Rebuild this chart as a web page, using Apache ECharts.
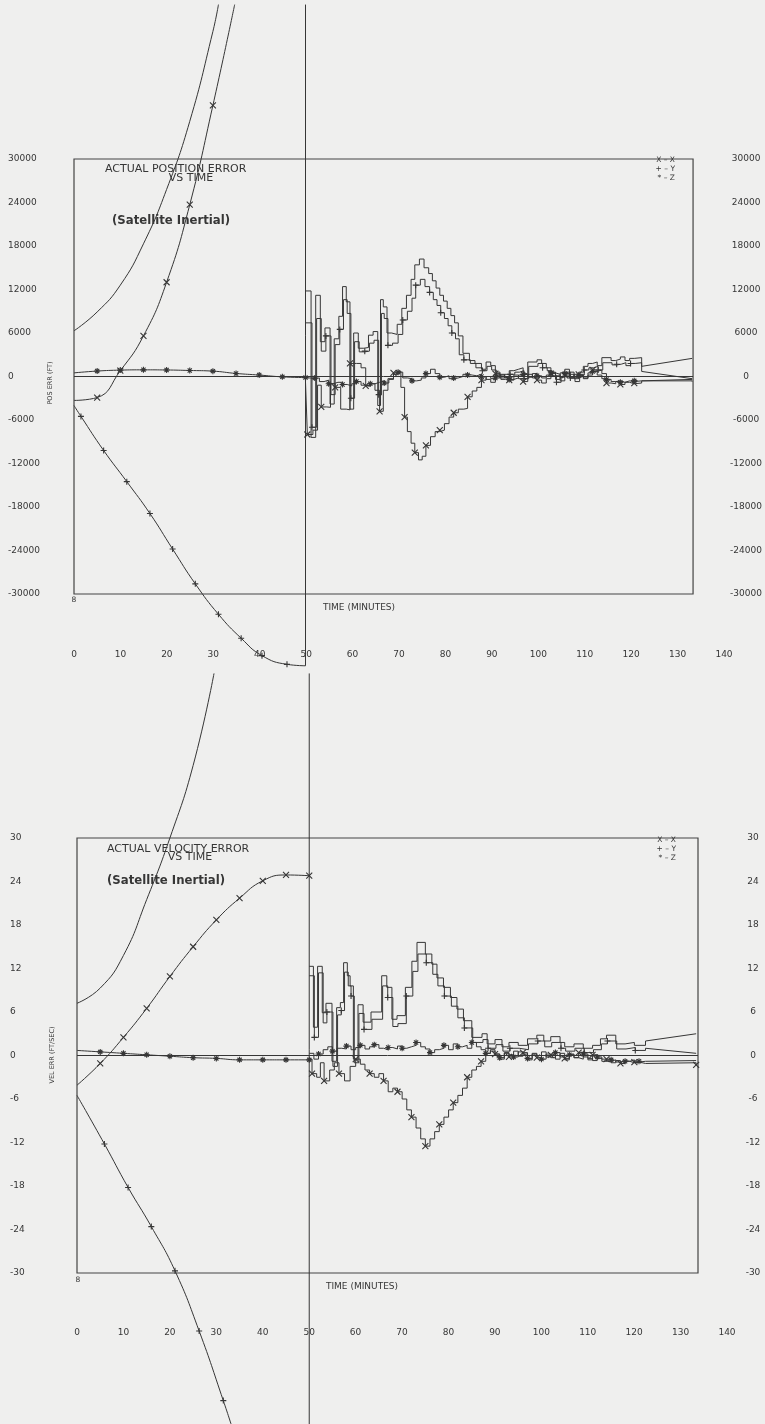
<!DOCTYPE html>
<html>
<head>
<meta charset="utf-8">
<script src="https://cdn.jsdelivr.net/npm/echarts@6/dist/echarts.min.js"></script>
<style>
  html, body { margin: 0; padding: 0; background: #efefee; }
  #chart { width: 765px; height: 1424px; }
</style>
</head>
<body>
<div id="chart"></div>
<script>
// ---------- axis ticks ----------
const timeTicks = [0, 10, 20, 30, 40, 50, 60, 70, 80, 90, 100, 110, 120, 130, 140];
const posTicks = [30000, 24000, 18000, 12000, 6000, 0, -6000, -12000, -18000, -24000, -30000];
const velTicks = [30, 24, 18, 12, 6, 0, -6, -12, -18, -24, -30];
const timeEnd = 133.7;   // last minute of the run

// ---------- position error (ft), first 50 minutes ----------
const posLead = [[0, 6300], [5, 8900], [10, 12600], [15, 18300], [20, 25800], [25, 35200], [30, 47600], [31.2, 51300]];
const posXEarly = [[0, -3300], [5, -2900], [10, 800], [15, 5600], [20, 13000], [25, 23700], [30, 37400], [34.7, 51300]];
const posYEarly = [[0, -4000], [1.5, -5500], [6.4, -10200], [11.4, -14500], [16.4, -18900], [21.3, -23800], [26.2, -28600], [31.2, -32800], [36.1, -36100], [40.6, -38500], [46, -39700], [50, -39900]];
const posZEarly = [[0, 500], [5, 750], [10, 880], [15, 920], [20, 900], [25, 830], [30, 740], [35, 420], [40, 200], [45, -50], [50, -150]];
const posUpdate = [[50, 51300], [50, -39900]];

// ---------- position error (ft), after the 50 minute update ----------
const posLeadLate = [[50,11800],[51.2,-8400],[52.2,11200],[53.2,4800],[54.2,6700],[55.3,-3800],[56.2,5200],[57.2,8300],[58,12400],[58.8,10300],[59.6,-4500],[60.4,6000],[61.4,3900],[62.6,4000],[63.6,5700],[64.6,6200],[65.6,-4000],[66.2,10600],[66.8,9600],[67.6,6000],[68.6,5800],[69.8,7200],[70.8,9400],[71.8,11200],[72.8,13400],[73.6,15400],[74.6,16200],[75.6,15000],[76.6,14200],[77.4,13200],[78.2,12200],[79,11200],[79.8,10400],[80.6,9400],[81.4,8400],[82.2,7400],[83,5600],[84,3200],[85.4,2200],[86.6,1800],[88,1000],[89,2000],[90,1500],[91,600],[92,200],[93,-200],[94,800],[95,1000],[96,1200],[97,400],[98,2000],[100,2300],[101,1800],[102,1200],[103,600],[104,-400],[105,500],[106,1000],[107,300],[108,-300],[109,600],[110,1400],[111,1800],[112,2000],[113,1500],[114,2600],[116,2200],[117,2400],[118,2700],[119,2200],[120,2500],[121,2600],[122.6,1400]];
const posLeadTail = [[122.6, 1400], [133.5, 2500]];
const posYLate = [[50,7400],[51.4,-7000],[52.4,8000],[53.4,3500],[54.4,5600],[55.5,-2500],[56.4,4400],[57.4,6500],[58.2,10600],[59,8700],[59.8,-3000],[60.6,4800],[61.6,3400],[62.8,3500],[63.8,4600],[64.8,5000],[65.8,-2500],[66.4,8700],[67,8000],[67.8,4300],[68.8,4600],[70,5800],[71,7800],[72,9000],[73,10800],[73.8,12600],[74.8,13400],[75.8,12400],[76.8,11600],[77.6,10600],[78.4,9800],[79.2,8800],[80,8000],[80.8,7000],[81.6,6000],[82.4,5200],[83.2,3000],[84.2,2300],[85.6,1800],[86.8,1200],[88.2,800],[89.2,1400],[90.2,900],[91.2,200],[92.2,-400],[93.2,-600],[94.2,300],[95.2,600],[96.2,800],[97.2,-300],[98.2,1400],[100.2,1800],[101.2,1200],[102.2,800],[103.2,100],[104.2,-800],[105.2,0],[106.2,600],[107.2,-200],[108.2,-700],[109.2,200],[110.2,900],[111.2,1200],[112.2,1400],[113.2,900],[114.2,1900],[116.2,1600],[117.2,1700],[118.2,1900],[119.2,1500],[120.2,1800],[121.2,1900],[122.6,700]];
const posYTail = [[122.6, 700], [133.5, -300]];
const posXLate = [[50,-800],[50.4,-8000],[51.6,-7400],[52.6,-1200],[53.4,-4200],[54.6,-4250],[55.4,-1000],[56.4,-1500],[57.6,-4500],[58.8,-4600],[59.6,1800],[61,1800],[62,1200],[63,-1300],[64,-1000],[65,-1900],[66,-4800],[66.8,-1900],[67.8,-300],[69,500],[70,700],[70.6,-1500],[71.4,-5600],[72,-7600],[72.8,-9200],[73.6,-10500],[74.4,-11500],[75.2,-11000],[76,-9500],[77,-8300],[78,-7600],[79,-7400],[80,-6500],[81,-5600],[82,-5000],[83,-4500],[84.2,-4400],[85,-2800],[86,-2000],[87,-1500],[88,-500],[89,0],[90,-300],[91,400],[92,-200],[93,300],[94,-500],[95,200],[96,-300],[97,-700],[98,300],[99,-200],[100,-500],[101,-900],[102,-300],[103,400],[104,100],[105,-600],[106,200],[107,600],[108,-100],[109,300],[110,-200],[111,500],[112,900],[113,200],[114,-300],[115,-900],[116,-1000],[117,-700],[118,-1100],[119,-800],[120,-1000],[121,-900],[122.6,-600],[133.5,-700]];
const posZLate = [[50,-200],[51,-300],[52,-200],[53,-700],[54,-500],[55,-1000],[56,-800],[57,-800],[58,-1100],[59,-1300],[60,-1000],[61,-700],[62,-1200],[63,-1300],[64,-1000],[65,-800],[66,-600],[67,-900],[68,-400],[69,300],[70,600],[71,-200],[72,-300],[73,-600],[74,-500],[75,-200],[76,400],[77,1000],[78,400],[79,-100],[80,100],[81,-300],[82,-200],[83,0],[84,300],[85,200],[86,100],[87,300],[88,0],[89,-400],[90,-800],[91,-200],[92,300],[93,-100],[94,-400],[95,-200],[96,200],[97,300],[98,-100],[99,400],[100,100],[101,-200],[102,200],[103,500],[104,300],[105,-100],[106,400],[107,-200],[108,300],[109,100],[110,-300],[111,200],[112,700],[113,900],[114,400],[115,-400],[116,-700],[117,-600],[118,-800],[119,-600],[120,-700],[121,-600],[122.6,-400],[133.5,-400]];

// ---------- velocity error (ft/sec), first 50 minutes ----------
const velLead = [[0, 7.2], [5, 9.3], [10, 13.8], [15, 21.5], [20, 30.0], [25, 40.0], [29.5, 52.7]];
const velXEarly = [[0, -4.1], [5, -1.1], [10, 2.5], [15, 6.5], [20, 10.9], [25, 15.0], [30, 18.7], [35, 21.7], [40, 24.1], [45, 24.9], [50, 24.8]];
const velYEarly = [[0, -5.5], [5.9, -12.2], [11, -18.2], [16, -23.6], [21.1, -29.7], [26.3, -38], [31.5, -47.6], [33.5, -51.5]];
const velZEarly = [[0, 0.7], [5, 0.5], [10, 0.3], [15, 0.1], [20, -0.1], [25, -0.3], [30, -0.4], [35, -0.6], [40, -0.6], [45, -0.6], [50, -0.6]];
const velUpdate = [[50, 52.7], [50, -52]];

// ---------- velocity error (ft/sec), after the update ----------
const velLeadLate = [[50,12.3],[50.9,3.9],[51.8,12.3],[52.8,5.9],[53.6,7.2],[54.9,-0.8],[55.9,6.6],[56.7,7.3],[57.4,12.8],[58.2,11.0],[58.8,9.6],[59.5,-0.5],[60.5,7.0],[61.6,4.6],[63.3,6.0],[65.6,11.0],[66.7,9.4],[67.8,5.0],[68.9,5.5],[70.7,9.4],[72.1,13.0],[73.2,15.6],[75,14.0],[76.4,12.6],[77.5,10.7],[78.9,9.4],[80.4,8.0],[81.8,6.4],[83.2,4.8],[85,2.5],[87.2,3.0],[88.3,1.6],[90,2.2],[91.5,1.2],[93,1.8],[95,1.4],[97,2.3],[99,2.8],[100.5,2.0],[102,2.6],[104,1.8],[105,1.2],[107,1.6],[109,1.0],[111,1.4],[112.7,2.3],[114,2.8],[116,1.6],[118,1.8],[120,1.4],[122.4,2.0]];
const velLeadTail = [[122.4, 2.0], [133.3, 3.0]];
const velYLate = [[50,11.0],[51.1,2.5],[52,11.4],[53,4.5],[53.8,6.0],[55.1,-1.5],[56.1,5.6],[56.9,6.2],[57.6,11.5],[58.4,9.6],[59,8.2],[59.7,-1.0],[60.7,5.8],[61.8,3.6],[63.5,5.0],[65.8,9.6],[66.9,8.0],[68,4.0],[69.1,4.4],[70.9,8.2],[72.3,11.6],[73.4,14.0],[75.2,12.8],[76.6,11.2],[77.7,9.6],[79.1,8.2],[80.6,6.8],[82,5.2],[83.4,3.8],[85.2,1.8],[87.4,2.2],[88.5,1.0],[90.2,1.5],[91.7,0.6],[93.2,1.0],[95.2,0.8],[97.2,1.6],[99.2,2.0],[100.7,1.2],[102.2,1.8],[104.2,1.0],[105.2,0.6],[107.2,1.0],[109.2,0.4],[111.2,0.8],[112.9,1.6],[114.2,2.0],[116.2,0.9],[118.2,1.1],[120.2,0.7],[122.4,1.0]];
const velYTail = [[122.4, 1.0], [133.3, 0.3]];
const velXLate = [[50,-0.5],[50.6,-2.5],[51.6,-3.0],[52.4,-1.0],[53.2,-3.5],[54.4,-2.0],[55.4,-1.0],[56.4,-2.5],[57.6,-3.5],[58.8,-1.5],[60,-0.5],[61,-1.2],[62,-2.0],[63,-2.5],[64,-3.0],[65,-2.5],[66,-3.5],[67,-5.0],[68,-4.5],[69,-5.0],[70,-6.0],[71,-7.5],[72,-8.5],[73,-10],[74,-11.5],[75,-12.5],[76,-11.5],[77,-10.5],[78,-9.5],[79,-8.5],[80,-7.5],[81,-6.5],[82,-5.5],[83,-4.5],[84,-3.0],[85,-2.0],[86,-1.5],[87,-0.8],[88,0.3],[89,0.8],[90,0.2],[91,-0.5],[92,0.3],[93,-0.2],[94,0.6],[95,-0.1],[96,0.4],[97,-0.6],[98,0.2],[99,-0.3],[100,0.5],[101,-0.2],[102,0.1],[103,-0.5],[104,0.3],[105,-0.4],[106,0.2],[107,-0.3],[108,0.4],[109,-0.2],[110,-0.6],[111,0.1],[112,-0.4],[113,-0.8],[114,-0.5],[115,-1.0],[116,-0.7],[117,-1.1],[118,-0.8],[119,-1.0],[120,-0.9],[121,-1.1],[122.4,-1.0],[133.3,-1.3]];
const velZLate = [[50,0.3],[51,-0.5],[52,0.2],[53,0.8],[54,1.2],[55,0.6],[56,1.0],[57,0.9],[58,1.3],[59,0.8],[60,1.1],[61,1.4],[62,0.9],[63,1.2],[64,1.5],[65,1.0],[66,0.8],[67,1.1],[68,0.9],[69,1.3],[70,1.0],[71,1.2],[72,1.4],[73,1.8],[74,1.2],[75,0.9],[76,0.4],[77,0.8],[78,1.0],[79,1.4],[80,0.8],[81,1.6],[82,1.2],[83,1.4],[84,1.0],[85,1.8],[86,1.2],[87,0.8],[88,0.3],[89,0.6],[90,0.2],[91,-0.3],[92,0.4],[93,0.1],[94,-0.2],[95,0.5],[96,0.2],[97,-0.4],[98,0.3],[99,0.0],[100,-0.5],[101,0.2],[102,-0.3],[103,0.4],[104,-0.2],[105,-0.6],[106,0.1],[107,-0.3],[108,-0.5],[109,0.2],[110,-0.4],[111,-0.7],[112,-0.2],[113,-0.5],[114,-0.8],[115,-0.6],[116,-0.9],[117,-0.7],[118,-0.8],[119,-0.6],[120,-0.9],[121,-0.8],[122.4,-0.7],[133.3,-0.7]];

// ---------- drawing ----------
const INK = '#363636';
const FONT = "'DejaVu Sans', sans-serif";
const SYM = {
  x: 'path://M0,0L10,10M10,0L0,10',
  plus: 'path://M5,0L5,10M0,5L10,5',
  star: 'path://M5,0L5,10M0,5L10,5M1.5,1.5L8.5,8.5M8.5,1.5L1.5,8.5'
};

// put a plotter marker on every `every`-th point from index `from` up to `to`
function marked(data, sym, every, from, to) {
  const last = to === undefined ? data.length - 1 : to;
  return data.map((p, i) => ({
    value: p,
    symbol: (sym && i >= from && i <= last && (i - from) % every === 0) ? SYM[sym] : 'none'
  }));
}

function trace(data, axes, opt) {
  return Object.assign({
    type: 'line',
    xAxisIndex: axes[0],
    yAxisIndex: axes[1],
    data: data,
    clip: false,
    showSymbol: true,
    symbol: 'none',
    symbolSize: 6,
    symbolKeepAspect: true,
    lineStyle: { color: INK, width: 1 },
    itemStyle: { color: 'none', borderColor: INK, borderWidth: 1.1 },
    silent: true,
    animation: false,
    z: 3
  }, opt || {});
}

const TOP = [0, 0];
const BOT = [2, 3];
const smooth = { smooth: 0.5 };
const steps = { step: 'end' };
const zeroLine = {
  markLine: {
    silent: true, symbol: 'none', animation: false,
    label: { show: false },
    lineStyle: { color: INK, width: 1, type: 'solid' },
    data: [{ yAxis: 0 }]
  }
};

const series = [
  // position chart
  trace(posLead, TOP, smooth),
  trace(marked(posXEarly, 'x', 1, 1, 6), TOP, smooth),
  trace(marked(posYEarly, 'plus', 1, 1, 10), TOP, smooth),
  trace(marked(posZEarly, 'star', 1, 1), TOP, Object.assign({}, smooth, zeroLine)),
  trace(posUpdate, TOP),
  trace(posLeadLate, TOP, steps),
  trace(posLeadTail, TOP),
  trace(marked(posYLate, 'plus', 3, 1), TOP, steps),
  trace(posYTail, TOP),
  trace(marked(posXLate, 'x', 3, 1), TOP, steps),
  trace(marked(posZLate, 'star', 3, 2), TOP, steps),
  // velocity chart
  trace(velLead, BOT, smooth),
  trace(marked(velXEarly, 'x', 1, 1), BOT, smooth),
  trace(marked(velYEarly, 'plus', 1, 1, 6), BOT, smooth),
  trace(marked(velZEarly, 'star', 1, 1), BOT, Object.assign({}, smooth, zeroLine)),
  trace(velUpdate, BOT),
  trace(velLeadLate, BOT, steps),
  trace(velLeadTail, BOT),
  trace(marked(velYLate, 'plus', 3, 1), BOT, steps),
  trace(velYTail, BOT),
  trace(marked(velXLate, 'x', 3, 1), BOT, steps),
  trace(marked(velZLate, 'star', 3, 2), BOT, steps)
];

const labelStyle = { color: INK, fontFamily: FONT, fontSize: 9, formatter: (v) => String(v) };
const boxGrid = (left, top) => ({
  left: left, top: top, width: 621, height: 435,
  show: true, borderColor: '#444', borderWidth: 1.2, backgroundColor: 'transparent'
});
const scaleGrid = (left, top) => ({ left: left, top: top, width: 650, height: 1, show: false });

const hiddenX = (grid) => ({
  type: 'value', gridIndex: grid, min: 0, max: timeEnd,
  axisLine: { show: false }, axisTick: { show: false }, axisLabel: { show: false }, splitLine: { show: false }
});
const timeScale = (grid) => ({
  type: 'value', gridIndex: grid,
  min: timeTicks[0], max: timeTicks[timeTicks.length - 1], interval: timeTicks[1] - timeTicks[0],
  axisLine: { show: false }, axisTick: { show: false }, splitLine: { show: false },
  axisLabel: Object.assign({ margin: 8 }, labelStyle)
});
const valueAxis = (grid, ticks, position, align, margin) => ({
  type: 'value', gridIndex: grid, position: position,
  min: ticks[ticks.length - 1], max: ticks[0], interval: ticks[0] - ticks[1],
  axisLine: { show: false }, axisTick: { show: false }, splitLine: { show: false },
  axisLabel: Object.assign({ align: align, margin: margin }, labelStyle)
});
const dummyY = (grid) => ({
  type: 'value', gridIndex: grid, show: false, min: 0, max: 1
});

function txt(x, y, text, size, extra) {
  return Object.assign({
    type: 'text', x: x, y: y, silent: true,
    style: Object.assign({
      text: text, fill: INK,
      fontSize: size, fontFamily: FONT,
      align: 'left', verticalAlign: 'middle',
      textAlign: 'left', textVerticalAlign: 'middle'
    }, extra || {})
  });
}
const centred = { align: 'center', textAlign: 'center' };
const rightAligned = { align: 'right', textAlign: 'right' };
const heading = { fontWeight: 'bold', fontFamily: "'DejaVu Sans Condensed', 'DejaVu Sans', sans-serif" };

const graphics = [
  // position chart annotations
  txt(105, 169, 'ACTUAL POSITION ERROR', 11),
  txt(191, 178, 'VS TIME', 11, centred),
  txt(112, 221, '(Satellite Inertial)', 13, heading),
  txt(675, 160, 'X \u2013 X', 7.5, rightAligned),
  txt(675, 169, '+ \u2013 Y', 7.5, rightAligned),
  txt(675, 178, '* \u2013 Z', 7.5, rightAligned),
  Object.assign(txt(50, 383, 'POS ERR (FT)', 6.5, centred), { rotation: Math.PI / 2 }),
  txt(359, 608, 'TIME (MINUTES)', 9, centred),
  txt(74, 600, '8', 7.5, centred),
  // velocity chart annotations
  txt(107, 849, 'ACTUAL VELOCITY ERROR', 11),
  txt(190, 857, 'VS TIME', 11, centred),
  txt(107, 881, '(Satellite Inertial)', 13, heading),
  txt(676, 840, 'X \u2013 X', 7.5, rightAligned),
  txt(676, 849, '+ \u2013 Y', 7.5, rightAligned),
  txt(676, 858, '* \u2013 Z', 7.5, rightAligned),
  Object.assign(txt(52, 1055, 'VEL ERR (FT/SEC)', 6.5, centred), { rotation: Math.PI / 2 }),
  txt(362, 1287, 'TIME (MINUTES)', 9, centred),
  txt(78, 1280, '8', 7.5, centred)
];

const chart = echarts.init(document.getElementById('chart'), null, { renderer: 'canvas', width: 765, height: 1424 });
chart.setOption({
  animation: false,
  backgroundColor: '#efefee',
  textStyle: { fontFamily: FONT },
  grid: [boxGrid(74, 159), scaleGrid(74, 641), boxGrid(77, 838), scaleGrid(77, 1319)],
  xAxis: [hiddenX(0), timeScale(1), hiddenX(2), timeScale(3)],
  yAxis: [
    valueAxis(0, posTicks, 'left', 'left', 66),
    valueAxis(0, posTicks, 'right', 'center', 53),
    dummyY(1),
    valueAxis(2, velTicks, 'left', 'left', 67),
    valueAxis(2, velTicks, 'right', 'center', 55),
    dummyY(3)
  ],
  graphic: graphics,
  series: series
});
</script>
</body>
</html>
